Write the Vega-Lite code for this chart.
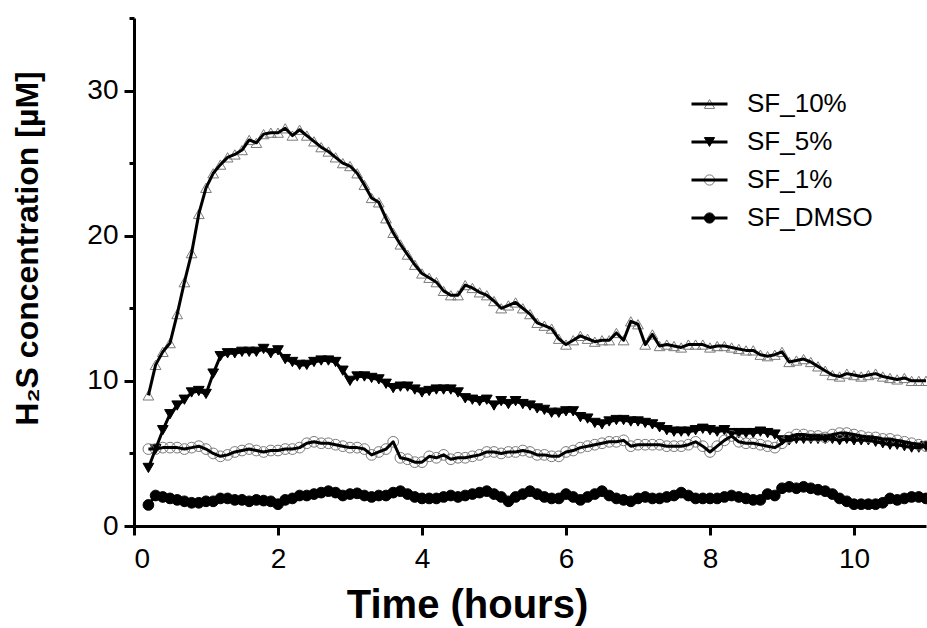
{
  "$schema": "https://vega.github.io/schema/vega-lite/v6.json",
  "width": 792,
  "height": 508,
  "autosize": {"type": "none"},
  "padding": {"left": 134, "top": 18, "right": 1, "bottom": 102},
  "background": "white",
  "config": {
    "view": {"stroke": null},
    "font": "Liberation Sans",
    "axis": {
      "domainColor": "black", "domainWidth": 3, "tickColor": "black", "tickWidth": 3,
      "grid": false, "labelFont": "Liberation Sans", "labelFontSize": 28, "labelColor": "black",
      "titleFont": "Liberation Sans", "titleFontSize": 32, "titleFontWeight": "bold", "titleColor": "black"
    },
    "legend": {"labelFont": "Liberation Sans", "labelColor": "black"}
  },
  "data": {"values": [
{"s":"SF_10%","t":0.2,"v":9.0},{"s":"SF_10%","t":0.3,"v":11.1},{"s":"SF_10%","t":0.4,"v":12.0},{"s":"SF_10%","t":0.5,"v":12.6},{"s":"SF_10%","t":0.6,"v":14.6},{"s":"SF_10%","t":0.7,"v":16.8},{"s":"SF_10%","t":0.8,"v":18.8},{"s":"SF_10%","t":0.9,"v":21.5},{"s":"SF_10%","t":1.0,"v":23.3},{"s":"SF_10%","t":1.1,"v":24.3},
{"s":"SF_10%","t":1.2,"v":24.9},{"s":"SF_10%","t":1.3,"v":25.4},{"s":"SF_10%","t":1.4,"v":25.6},{"s":"SF_10%","t":1.5,"v":25.9},{"s":"SF_10%","t":1.6,"v":26.6},{"s":"SF_10%","t":1.7,"v":26.4},{"s":"SF_10%","t":1.8,"v":27.0},{"s":"SF_10%","t":1.9,"v":27.1},{"s":"SF_10%","t":2.0,"v":27.1},{"s":"SF_10%","t":2.1,"v":27.4},
{"s":"SF_10%","t":2.2,"v":26.9},{"s":"SF_10%","t":2.3,"v":27.3},{"s":"SF_10%","t":2.4,"v":26.9},{"s":"SF_10%","t":2.5,"v":26.5},{"s":"SF_10%","t":2.6,"v":26.1},{"s":"SF_10%","t":2.7,"v":25.8},{"s":"SF_10%","t":2.8,"v":25.4},{"s":"SF_10%","t":2.9,"v":25.0},{"s":"SF_10%","t":3.0,"v":24.8},{"s":"SF_10%","t":3.1,"v":24.3},
{"s":"SF_10%","t":3.2,"v":23.5},{"s":"SF_10%","t":3.3,"v":22.6},{"s":"SF_10%","t":3.4,"v":22.3},{"s":"SF_10%","t":3.5,"v":21.2},{"s":"SF_10%","t":3.6,"v":20.2},{"s":"SF_10%","t":3.7,"v":19.4},{"s":"SF_10%","t":3.8,"v":18.7},{"s":"SF_10%","t":3.9,"v":18.0},{"s":"SF_10%","t":4.0,"v":17.4},{"s":"SF_10%","t":4.1,"v":17.1},
{"s":"SF_10%","t":4.2,"v":16.8},{"s":"SF_10%","t":4.3,"v":16.2},{"s":"SF_10%","t":4.4,"v":15.9},{"s":"SF_10%","t":4.5,"v":15.9},{"s":"SF_10%","t":4.6,"v":16.6},{"s":"SF_10%","t":4.7,"v":16.4},{"s":"SF_10%","t":4.8,"v":16.1},{"s":"SF_10%","t":4.9,"v":15.9},{"s":"SF_10%","t":5.0,"v":15.5},{"s":"SF_10%","t":5.1,"v":15.0},
{"s":"SF_10%","t":5.2,"v":15.2},{"s":"SF_10%","t":5.3,"v":15.4},{"s":"SF_10%","t":5.4,"v":15.0},{"s":"SF_10%","t":5.5,"v":14.6},{"s":"SF_10%","t":5.6,"v":14.0},{"s":"SF_10%","t":5.7,"v":13.8},{"s":"SF_10%","t":5.8,"v":13.6},{"s":"SF_10%","t":5.9,"v":12.9},{"s":"SF_10%","t":6.0,"v":12.5},{"s":"SF_10%","t":6.1,"v":12.8},
{"s":"SF_10%","t":6.2,"v":13.1},{"s":"SF_10%","t":6.3,"v":12.9},{"s":"SF_10%","t":6.4,"v":12.7},{"s":"SF_10%","t":6.5,"v":12.8},{"s":"SF_10%","t":6.6,"v":12.8},{"s":"SF_10%","t":6.7,"v":13.3},{"s":"SF_10%","t":6.8,"v":12.8},{"s":"SF_10%","t":6.9,"v":14.1},{"s":"SF_10%","t":7.0,"v":13.9},{"s":"SF_10%","t":7.1,"v":12.5},
{"s":"SF_10%","t":7.2,"v":13.2},{"s":"SF_10%","t":7.3,"v":12.4},{"s":"SF_10%","t":7.4,"v":12.5},{"s":"SF_10%","t":7.5,"v":12.4},{"s":"SF_10%","t":7.6,"v":12.3},{"s":"SF_10%","t":7.7,"v":12.5},{"s":"SF_10%","t":7.8,"v":12.5},{"s":"SF_10%","t":7.9,"v":12.5},{"s":"SF_10%","t":8.0,"v":12.3},{"s":"SF_10%","t":8.1,"v":12.4},
{"s":"SF_10%","t":8.2,"v":12.4},{"s":"SF_10%","t":8.3,"v":12.3},{"s":"SF_10%","t":8.4,"v":12.2},{"s":"SF_10%","t":8.5,"v":12.1},{"s":"SF_10%","t":8.6,"v":12.1},{"s":"SF_10%","t":8.7,"v":11.8},{"s":"SF_10%","t":8.8,"v":11.7},{"s":"SF_10%","t":8.9,"v":11.8},{"s":"SF_10%","t":9.0,"v":12.0},{"s":"SF_10%","t":9.1,"v":11.3},
{"s":"SF_10%","t":9.2,"v":11.4},{"s":"SF_10%","t":9.3,"v":11.5},{"s":"SF_10%","t":9.4,"v":11.3},{"s":"SF_10%","t":9.5,"v":11.0},{"s":"SF_10%","t":9.6,"v":10.7},{"s":"SF_10%","t":9.7,"v":10.4},{"s":"SF_10%","t":9.8,"v":10.3},{"s":"SF_10%","t":9.9,"v":10.5},{"s":"SF_10%","t":10.0,"v":10.4},{"s":"SF_10%","t":10.1,"v":10.3},
{"s":"SF_10%","t":10.2,"v":10.4},{"s":"SF_10%","t":10.3,"v":10.5},{"s":"SF_10%","t":10.4,"v":10.3},{"s":"SF_10%","t":10.5,"v":10.2},{"s":"SF_10%","t":10.6,"v":10.1},{"s":"SF_10%","t":10.7,"v":10.2},{"s":"SF_10%","t":10.8,"v":10.0},{"s":"SF_10%","t":10.9,"v":10.0},{"s":"SF_10%","t":11.0,"v":10.0},
{"s":"SF_5%","t":0.2,"v":4.0},{"s":"SF_5%","t":0.3,"v":5.3},{"s":"SF_5%","t":0.4,"v":6.6},{"s":"SF_5%","t":0.5,"v":7.7},{"s":"SF_5%","t":0.6,"v":8.3},{"s":"SF_5%","t":0.7,"v":8.7},{"s":"SF_5%","t":0.8,"v":9.2},{"s":"SF_5%","t":0.9,"v":9.3},{"s":"SF_5%","t":1.0,"v":9.1},{"s":"SF_5%","t":1.1,"v":10.5},
{"s":"SF_5%","t":1.2,"v":11.7},{"s":"SF_5%","t":1.3,"v":11.9},{"s":"SF_5%","t":1.4,"v":11.9},{"s":"SF_5%","t":1.5,"v":12.0},{"s":"SF_5%","t":1.6,"v":12.0},{"s":"SF_5%","t":1.7,"v":12.0},{"s":"SF_5%","t":1.8,"v":12.2},{"s":"SF_5%","t":1.9,"v":11.9},{"s":"SF_5%","t":2.0,"v":12.1},{"s":"SF_5%","t":2.1,"v":11.5},
{"s":"SF_5%","t":2.2,"v":11.3},{"s":"SF_5%","t":2.3,"v":11.1},{"s":"SF_5%","t":2.4,"v":11.1},{"s":"SF_5%","t":2.5,"v":11.3},{"s":"SF_5%","t":2.6,"v":11.4},{"s":"SF_5%","t":2.7,"v":11.4},{"s":"SF_5%","t":2.8,"v":11.3},{"s":"SF_5%","t":2.9,"v":10.7},{"s":"SF_5%","t":3.0,"v":10.0},{"s":"SF_5%","t":3.1,"v":10.3},
{"s":"SF_5%","t":3.2,"v":10.3},{"s":"SF_5%","t":3.3,"v":10.2},{"s":"SF_5%","t":3.4,"v":10.1},{"s":"SF_5%","t":3.5,"v":9.8},{"s":"SF_5%","t":3.6,"v":9.5},{"s":"SF_5%","t":3.7,"v":9.6},{"s":"SF_5%","t":3.8,"v":9.6},{"s":"SF_5%","t":3.9,"v":9.4},{"s":"SF_5%","t":4.0,"v":9.2},{"s":"SF_5%","t":4.1,"v":9.3},
{"s":"SF_5%","t":4.2,"v":9.4},{"s":"SF_5%","t":4.3,"v":9.4},{"s":"SF_5%","t":4.4,"v":9.4},{"s":"SF_5%","t":4.5,"v":9.2},{"s":"SF_5%","t":4.6,"v":8.8},{"s":"SF_5%","t":4.7,"v":8.7},{"s":"SF_5%","t":4.8,"v":8.6},{"s":"SF_5%","t":4.9,"v":8.7},{"s":"SF_5%","t":5.0,"v":8.3},{"s":"SF_5%","t":5.1,"v":8.6},
{"s":"SF_5%","t":5.2,"v":8.4},{"s":"SF_5%","t":5.3,"v":8.6},{"s":"SF_5%","t":5.4,"v":8.4},{"s":"SF_5%","t":5.5,"v":8.3},{"s":"SF_5%","t":5.6,"v":8.1},{"s":"SF_5%","t":5.7,"v":8.0},{"s":"SF_5%","t":5.8,"v":7.8},{"s":"SF_5%","t":5.9,"v":7.8},{"s":"SF_5%","t":6.0,"v":7.9},{"s":"SF_5%","t":6.1,"v":7.9},
{"s":"SF_5%","t":6.2,"v":7.5},{"s":"SF_5%","t":6.3,"v":7.4},{"s":"SF_5%","t":6.4,"v":7.1},{"s":"SF_5%","t":6.5,"v":7.0},{"s":"SF_5%","t":6.6,"v":7.2},{"s":"SF_5%","t":6.7,"v":7.3},{"s":"SF_5%","t":6.8,"v":7.3},{"s":"SF_5%","t":6.9,"v":7.2},{"s":"SF_5%","t":7.0,"v":7.2},{"s":"SF_5%","t":7.1,"v":7.1},
{"s":"SF_5%","t":7.2,"v":7.0},{"s":"SF_5%","t":7.3,"v":6.8},{"s":"SF_5%","t":7.4,"v":6.6},{"s":"SF_5%","t":7.5,"v":6.5},{"s":"SF_5%","t":7.6,"v":6.5},{"s":"SF_5%","t":7.7,"v":6.5},{"s":"SF_5%","t":7.8,"v":6.6},{"s":"SF_5%","t":7.9,"v":6.7},{"s":"SF_5%","t":8.0,"v":6.6},{"s":"SF_5%","t":8.1,"v":6.5},
{"s":"SF_5%","t":8.2,"v":6.6},{"s":"SF_5%","t":8.3,"v":6.4},{"s":"SF_5%","t":8.4,"v":6.4},{"s":"SF_5%","t":8.5,"v":6.4},{"s":"SF_5%","t":8.6,"v":6.4},{"s":"SF_5%","t":8.7,"v":6.5},{"s":"SF_5%","t":8.8,"v":6.4},{"s":"SF_5%","t":8.9,"v":6.3},{"s":"SF_5%","t":9.0,"v":5.9},{"s":"SF_5%","t":9.1,"v":5.9},
{"s":"SF_5%","t":9.2,"v":6.0},{"s":"SF_5%","t":9.3,"v":6.0},{"s":"SF_5%","t":9.4,"v":6.0},{"s":"SF_5%","t":9.5,"v":6.0},{"s":"SF_5%","t":9.6,"v":6.0},{"s":"SF_5%","t":9.7,"v":6.0},{"s":"SF_5%","t":9.8,"v":5.9},{"s":"SF_5%","t":9.9,"v":6.0},{"s":"SF_5%","t":10.0,"v":5.9},{"s":"SF_5%","t":10.1,"v":5.9},
{"s":"SF_5%","t":10.2,"v":5.9},{"s":"SF_5%","t":10.3,"v":5.8},{"s":"SF_5%","t":10.4,"v":5.7},{"s":"SF_5%","t":10.5,"v":5.6},{"s":"SF_5%","t":10.6,"v":5.6},{"s":"SF_5%","t":10.7,"v":5.5},{"s":"SF_5%","t":10.8,"v":5.4},{"s":"SF_5%","t":10.9,"v":5.4},{"s":"SF_5%","t":11.0,"v":5.5},
{"s":"SF_1%","t":0.2,"v":5.3},{"s":"SF_1%","t":0.3,"v":5.3},{"s":"SF_1%","t":0.4,"v":5.4},{"s":"SF_1%","t":0.5,"v":5.4},{"s":"SF_1%","t":0.6,"v":5.4},{"s":"SF_1%","t":0.7,"v":5.3},{"s":"SF_1%","t":0.8,"v":5.4},{"s":"SF_1%","t":0.9,"v":5.5},{"s":"SF_1%","t":1.0,"v":5.3},{"s":"SF_1%","t":1.1,"v":5.0},
{"s":"SF_1%","t":1.2,"v":4.8},{"s":"SF_1%","t":1.3,"v":4.9},{"s":"SF_1%","t":1.4,"v":5.1},{"s":"SF_1%","t":1.5,"v":5.2},{"s":"SF_1%","t":1.6,"v":5.3},{"s":"SF_1%","t":1.7,"v":5.2},{"s":"SF_1%","t":1.8,"v":5.1},{"s":"SF_1%","t":1.9,"v":5.2},{"s":"SF_1%","t":2.0,"v":5.2},{"s":"SF_1%","t":2.1,"v":5.3},
{"s":"SF_1%","t":2.2,"v":5.3},{"s":"SF_1%","t":2.3,"v":5.4},{"s":"SF_1%","t":2.4,"v":5.7},{"s":"SF_1%","t":2.5,"v":5.8},{"s":"SF_1%","t":2.6,"v":5.7},{"s":"SF_1%","t":2.7,"v":5.7},{"s":"SF_1%","t":2.8,"v":5.6},{"s":"SF_1%","t":2.9,"v":5.5},{"s":"SF_1%","t":3.0,"v":5.4},{"s":"SF_1%","t":3.1,"v":5.4},
{"s":"SF_1%","t":3.2,"v":5.3},{"s":"SF_1%","t":3.3,"v":4.9},{"s":"SF_1%","t":3.4,"v":5.1},{"s":"SF_1%","t":3.5,"v":5.3},{"s":"SF_1%","t":3.6,"v":5.8},{"s":"SF_1%","t":3.7,"v":4.7},{"s":"SF_1%","t":3.8,"v":4.6},{"s":"SF_1%","t":3.9,"v":4.4},{"s":"SF_1%","t":4.0,"v":4.4},{"s":"SF_1%","t":4.1,"v":4.8},
{"s":"SF_1%","t":4.2,"v":4.7},{"s":"SF_1%","t":4.3,"v":4.9},{"s":"SF_1%","t":4.4,"v":4.6},{"s":"SF_1%","t":4.5,"v":4.7},{"s":"SF_1%","t":4.6,"v":4.7},{"s":"SF_1%","t":4.7,"v":4.8},{"s":"SF_1%","t":4.8,"v":4.9},{"s":"SF_1%","t":4.9,"v":5.1},{"s":"SF_1%","t":5.0,"v":5.1},{"s":"SF_1%","t":5.1,"v":5.0},
{"s":"SF_1%","t":5.2,"v":5.1},{"s":"SF_1%","t":5.3,"v":5.1},{"s":"SF_1%","t":5.4,"v":5.2},{"s":"SF_1%","t":5.5,"v":5.1},{"s":"SF_1%","t":5.6,"v":4.9},{"s":"SF_1%","t":5.7,"v":4.9},{"s":"SF_1%","t":5.8,"v":4.8},{"s":"SF_1%","t":5.9,"v":4.8},{"s":"SF_1%","t":6.0,"v":5.1},{"s":"SF_1%","t":6.1,"v":5.2},
{"s":"SF_1%","t":6.2,"v":5.4},{"s":"SF_1%","t":6.3,"v":5.5},{"s":"SF_1%","t":6.4,"v":5.6},{"s":"SF_1%","t":6.5,"v":5.7},{"s":"SF_1%","t":6.6,"v":5.8},{"s":"SF_1%","t":6.7,"v":5.8},{"s":"SF_1%","t":6.8,"v":5.9},{"s":"SF_1%","t":6.9,"v":5.5},{"s":"SF_1%","t":7.0,"v":5.6},{"s":"SF_1%","t":7.1,"v":5.6},
{"s":"SF_1%","t":7.2,"v":5.6},{"s":"SF_1%","t":7.3,"v":5.6},{"s":"SF_1%","t":7.4,"v":5.5},{"s":"SF_1%","t":7.5,"v":5.5},{"s":"SF_1%","t":7.6,"v":5.5},{"s":"SF_1%","t":7.7,"v":5.6},{"s":"SF_1%","t":7.8,"v":5.8},{"s":"SF_1%","t":7.9,"v":5.5},{"s":"SF_1%","t":8.0,"v":5.1},{"s":"SF_1%","t":8.1,"v":5.5},
{"s":"SF_1%","t":8.2,"v":5.9},{"s":"SF_1%","t":8.3,"v":6.2},{"s":"SF_1%","t":8.4,"v":5.8},{"s":"SF_1%","t":8.5,"v":5.7},{"s":"SF_1%","t":8.6,"v":5.7},{"s":"SF_1%","t":8.7,"v":5.6},{"s":"SF_1%","t":8.8,"v":5.5},{"s":"SF_1%","t":8.9,"v":5.4},{"s":"SF_1%","t":9.0,"v":5.7},{"s":"SF_1%","t":9.1,"v":6.1},
{"s":"SF_1%","t":9.2,"v":6.3},{"s":"SF_1%","t":9.3,"v":6.3},{"s":"SF_1%","t":9.4,"v":6.2},{"s":"SF_1%","t":9.5,"v":6.2},{"s":"SF_1%","t":9.6,"v":6.1},{"s":"SF_1%","t":9.7,"v":6.3},{"s":"SF_1%","t":9.8,"v":6.4},{"s":"SF_1%","t":9.9,"v":6.4},{"s":"SF_1%","t":10.0,"v":6.3},{"s":"SF_1%","t":10.1,"v":6.2},
{"s":"SF_1%","t":10.2,"v":6.1},{"s":"SF_1%","t":10.3,"v":6.1},{"s":"SF_1%","t":10.4,"v":6.0},{"s":"SF_1%","t":10.5,"v":6.0},{"s":"SF_1%","t":10.6,"v":5.9},{"s":"SF_1%","t":10.7,"v":5.8},{"s":"SF_1%","t":10.8,"v":5.7},{"s":"SF_1%","t":10.9,"v":5.6},{"s":"SF_1%","t":11.0,"v":5.5},
{"s":"SF_DMSO","t":0.2,"v":1.45},{"s":"SF_DMSO","t":0.3,"v":2.1},{"s":"SF_DMSO","t":0.4,"v":2.0},{"s":"SF_DMSO","t":0.5,"v":1.9},{"s":"SF_DMSO","t":0.6,"v":1.8},{"s":"SF_DMSO","t":0.7,"v":1.7},{"s":"SF_DMSO","t":0.8,"v":1.6},{"s":"SF_DMSO","t":0.9,"v":1.6},{"s":"SF_DMSO","t":1.0,"v":1.7},{"s":"SF_DMSO","t":1.1,"v":1.7},
{"s":"SF_DMSO","t":1.2,"v":1.9},{"s":"SF_DMSO","t":1.3,"v":1.9},{"s":"SF_DMSO","t":1.4,"v":1.8},{"s":"SF_DMSO","t":1.5,"v":1.8},{"s":"SF_DMSO","t":1.6,"v":1.7},{"s":"SF_DMSO","t":1.7,"v":1.8},{"s":"SF_DMSO","t":1.8,"v":1.75},{"s":"SF_DMSO","t":1.9,"v":1.7},{"s":"SF_DMSO","t":2.0,"v":1.5},{"s":"SF_DMSO","t":2.1,"v":1.8},
{"s":"SF_DMSO","t":2.2,"v":1.9},{"s":"SF_DMSO","t":2.3,"v":2.1},{"s":"SF_DMSO","t":2.4,"v":2.1},{"s":"SF_DMSO","t":2.5,"v":2.2},{"s":"SF_DMSO","t":2.6,"v":2.3},{"s":"SF_DMSO","t":2.7,"v":2.4},{"s":"SF_DMSO","t":2.8,"v":2.3},{"s":"SF_DMSO","t":2.9,"v":2.1},{"s":"SF_DMSO","t":3.0,"v":2.2},{"s":"SF_DMSO","t":3.1,"v":2.25},
{"s":"SF_DMSO","t":3.2,"v":2.1},{"s":"SF_DMSO","t":3.3,"v":2.0},{"s":"SF_DMSO","t":3.4,"v":2.1},{"s":"SF_DMSO","t":3.5,"v":2.1},{"s":"SF_DMSO","t":3.6,"v":2.3},{"s":"SF_DMSO","t":3.7,"v":2.4},{"s":"SF_DMSO","t":3.8,"v":2.2},{"s":"SF_DMSO","t":3.9,"v":2.0},{"s":"SF_DMSO","t":4.0,"v":1.9},{"s":"SF_DMSO","t":4.1,"v":1.9},
{"s":"SF_DMSO","t":4.2,"v":1.9},{"s":"SF_DMSO","t":4.3,"v":2.0},{"s":"SF_DMSO","t":4.4,"v":2.1},{"s":"SF_DMSO","t":4.5,"v":2.0},{"s":"SF_DMSO","t":4.6,"v":2.1},{"s":"SF_DMSO","t":4.7,"v":2.2},{"s":"SF_DMSO","t":4.8,"v":2.3},{"s":"SF_DMSO","t":4.9,"v":2.4},{"s":"SF_DMSO","t":5.0,"v":2.2},{"s":"SF_DMSO","t":5.1,"v":2.0},
{"s":"SF_DMSO","t":5.2,"v":1.7},{"s":"SF_DMSO","t":5.3,"v":2.0},{"s":"SF_DMSO","t":5.4,"v":2.2},{"s":"SF_DMSO","t":5.5,"v":2.4},{"s":"SF_DMSO","t":5.6,"v":2.2},{"s":"SF_DMSO","t":5.7,"v":2.0},{"s":"SF_DMSO","t":5.8,"v":1.9},{"s":"SF_DMSO","t":5.9,"v":1.9},{"s":"SF_DMSO","t":6.0,"v":2.2},{"s":"SF_DMSO","t":6.1,"v":2.0},
{"s":"SF_DMSO","t":6.2,"v":1.8},{"s":"SF_DMSO","t":6.3,"v":2.0},{"s":"SF_DMSO","t":6.4,"v":2.2},{"s":"SF_DMSO","t":6.5,"v":2.4},{"s":"SF_DMSO","t":6.6,"v":2.1},{"s":"SF_DMSO","t":6.7,"v":1.9},{"s":"SF_DMSO","t":6.8,"v":1.8},{"s":"SF_DMSO","t":6.9,"v":1.7},{"s":"SF_DMSO","t":7.0,"v":1.9},{"s":"SF_DMSO","t":7.1,"v":2.0},
{"s":"SF_DMSO","t":7.2,"v":1.9},{"s":"SF_DMSO","t":7.3,"v":1.9},{"s":"SF_DMSO","t":7.4,"v":2.0},{"s":"SF_DMSO","t":7.5,"v":2.1},{"s":"SF_DMSO","t":7.6,"v":2.3},{"s":"SF_DMSO","t":7.7,"v":2.1},{"s":"SF_DMSO","t":7.8,"v":1.9},{"s":"SF_DMSO","t":7.9,"v":1.9},{"s":"SF_DMSO","t":8.0,"v":1.9},{"s":"SF_DMSO","t":8.1,"v":1.9},
{"s":"SF_DMSO","t":8.2,"v":2.0},{"s":"SF_DMSO","t":8.3,"v":2.1},{"s":"SF_DMSO","t":8.4,"v":2.0},{"s":"SF_DMSO","t":8.5,"v":1.9},{"s":"SF_DMSO","t":8.6,"v":1.8},{"s":"SF_DMSO","t":8.7,"v":1.8},{"s":"SF_DMSO","t":8.8,"v":2.2},{"s":"SF_DMSO","t":8.9,"v":2.1},{"s":"SF_DMSO","t":9.0,"v":2.6},{"s":"SF_DMSO","t":9.1,"v":2.7},
{"s":"SF_DMSO","t":9.2,"v":2.6},{"s":"SF_DMSO","t":9.3,"v":2.7},{"s":"SF_DMSO","t":9.4,"v":2.6},{"s":"SF_DMSO","t":9.5,"v":2.5},{"s":"SF_DMSO","t":9.6,"v":2.4},{"s":"SF_DMSO","t":9.7,"v":2.2},{"s":"SF_DMSO","t":9.8,"v":1.9},{"s":"SF_DMSO","t":9.9,"v":1.7},{"s":"SF_DMSO","t":10.0,"v":1.5},{"s":"SF_DMSO","t":10.1,"v":1.5},
{"s":"SF_DMSO","t":10.2,"v":1.5},{"s":"SF_DMSO","t":10.3,"v":1.5},{"s":"SF_DMSO","t":10.4,"v":1.6},{"s":"SF_DMSO","t":10.5,"v":1.9},{"s":"SF_DMSO","t":10.6,"v":1.8},{"s":"SF_DMSO","t":10.7,"v":1.9},{"s":"SF_DMSO","t":10.8,"v":2.0},{"s":"SF_DMSO","t":10.9,"v":2.0},{"s":"SF_DMSO","t":11.0,"v":1.9}
  ]},
  "encoding": {
    "x": {
      "field": "t", "type": "quantitative",
      "scale": {"domain": [0, 11], "nice": false, "zero": false},
      "axis": {
        "title": "Time (hours)", "values": [0, 2, 4, 6, 8, 10], "tickSize": 9, "labelPadding": 10,
        "titleFontSize": 40, "titleX": 333, "titleY": 91, "titleAlign": "center", "titleBaseline": "alphabetic", "titleAnchor": null
      }
    },
    "y": {
      "field": "v", "type": "quantitative",
      "scale": {"domain": [0, 35], "nice": false},
      "axis": {
        "title": "H₂S concentration [µM]",
        "values": [0, 5, 10, 15, 20, 25, 30, 35],
        "labelExpr": "datum.value % 10 === 0 ? datum.label : ''",
        "tickSize": {"condition": {"test": "datum.value % 10 === 0", "value": 10}, "value": 5},
        "labelPadding": 6,
        "titleAngle": -90, "titleX": -97, "titleY": 230, "titleAlign": "center", "titleBaseline": "alphabetic"
      }
    }
  },
  "layer": [
    {
      "mark": {"type": "point", "filled": true, "size": 115, "strokeWidth": 1, "opacity": 1},
      "encoding": {
        "shape": {
          "field": "s", "type": "nominal",
          "scale": {"domain": ["SF_10%", "SF_5%", "SF_1%", "SF_DMSO"], "range": ["triangle-up", "triangle-down", "circle", "circle"]},
          "legend": {
            "orient": "none", "legendX": 556, "legendY": 73, "title": null, "padding": 0, "labelExpr": "' '",
            "labelFontSize": 26, "labelOpacity": 0, "rowPadding": 12, "symbolSize": 105, "clipHeight": 26,
            "symbolStrokeWidth": 1, "symbolOffset": 6.5, "labelOffset": 18
          }
        },
        "fill": {
          "field": "s", "type": "nominal",
          "scale": {"domain": ["SF_10%", "SF_5%", "SF_1%", "SF_DMSO"], "range": ["transparent", "black", "transparent", "black"]},
          "legend": {
            "orient": "none", "legendX": 556, "legendY": 73, "title": null, "padding": 0, "labelExpr": "' '",
            "labelFontSize": 26, "labelOpacity": 0, "rowPadding": 12, "symbolSize": 105, "clipHeight": 26,
            "symbolStrokeWidth": 1, "symbolOffset": 6.5, "labelOffset": 18
          }
        },
        "stroke": {
          "field": "s", "type": "nominal",
          "scale": {"domain": ["SF_10%", "SF_5%", "SF_1%", "SF_DMSO"], "range": ["#7a7a7a", "black", "#7a7a7a", "black"]},
          "legend": {
            "orient": "none", "legendX": 556, "legendY": 73, "title": null, "padding": 0, "labelExpr": "' '",
            "labelFontSize": 26, "labelOpacity": 0, "rowPadding": 12, "symbolSize": 105, "clipHeight": 26,
            "symbolStrokeWidth": 1, "symbolOffset": 6.5, "labelOffset": 18
          }
        }
      }
    },
    {
      "mark": {"type": "line", "strokeWidth": 3, "strokeJoin": "round"},
      "encoding": {
        "color": {
          "field": "s", "type": "nominal",
          "sort": ["SF_10%", "SF_5%", "SF_1%", "SF_DMSO"],
          "scale": {"range": ["black", "black", "black", "black"]},
          "legend": {
            "orient": "none", "legendX": 556, "legendY": 73, "title": null, "padding": 0,
            "labelFontSize": 26, "rowPadding": 12, "symbolType": "stroke", "symbolSize": 1296, "clipHeight": 26,
            "symbolStrokeWidth": 3, "labelOffset": 18, "symbolStrokeColor": "black"
          }
        }
      }
    }
  ]
}
